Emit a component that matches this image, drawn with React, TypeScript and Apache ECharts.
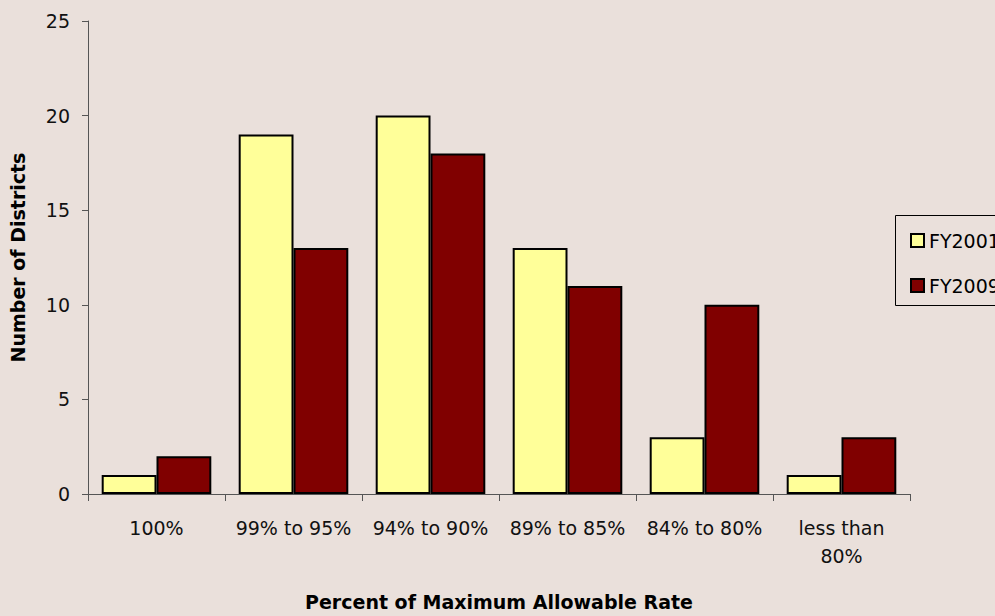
import React, { useEffect, useRef } from "react";
import * as echarts from "echarts";

const categories = ["100%", "99% to 95%", "94% to 90%", "89% to 85%", "84% to 80%", "less than\n80%"];
const fy2001 = [1, 19, 20, 13, 3, 1];
const fy2009 = [2, 13, 18, 11, 10, 3];
const yTicks = { min: 0, max: 25, interval: 5 };

const FONT = "'DejaVu Sans', Verdana, sans-serif";

export default function App() {
  const ref = useRef<HTMLDivElement>(null);
  useEffect(() => {
    if (!ref.current) return;
    const chart = echarts.init(ref.current, undefined, { renderer: "svg" });
    chart.setOption({
      animation: false,
      backgroundColor: "#EAE0DB",
      textStyle: { fontFamily: FONT },
      grid: { left: 81, top: 21, right: 85, bottom: 111, containLabel: false },
      legend: {
        orient: "vertical",
        left: 905,
        top: 226,
        itemWidth: 13,
        itemHeight: 13,
        itemGap: 26,
        icon: "rect",
        textStyle: { fontFamily: FONT, fontSize: 19, color: "#000" },
        data: ["FY2001", "FY2009"],
      },
      graphic: [
        {
          type: "rect",
          shape: { x: 895.5, y: 215.5, width: 200, height: 90 },
          style: { fill: "none", stroke: "#000", lineWidth: 1 },
          z: 10,
        },
      ],
      xAxis: {
        type: "category",
        data: categories,
        name: "Percent of Maximum Allowable Rate",
        nameLocation: "middle",
        nameGap: 98,
        nameTextStyle: { fontFamily: FONT, fontSize: 19, fontWeight: "bold", color: "#000" },
        axisLine: { lineStyle: { color: "#555", width: 1 } },
        axisTick: { show: true, length: 7, lineStyle: { color: "#555" } },
        axisLabel: { interval: 0, fontFamily: FONT, fontSize: 19, color: "#111", margin: 20, lineHeight: 28 },
      },
      yAxis: {
        type: "value",
        min: yTicks.min,
        max: yTicks.max,
        interval: yTicks.interval,
        name: "Number of Districts",
        nameLocation: "middle",
        nameGap: 61,
        nameRotate: 90,
        nameTextStyle: { fontFamily: FONT, fontSize: 19, fontWeight: "bold", color: "#000" },
        axisLine: { show: true, lineStyle: { color: "#555", width: 1 } },
        axisTick: { show: true, length: 6, lineStyle: { color: "#555" } },
        axisLabel: { fontFamily: FONT, fontSize: 19, color: "#111", margin: 18 },
        splitLine: { show: false },
      },
      series: [
        {
          name: "FY2001",
          type: "bar",
          data: fy2001,
          barGap: "0%",
          barCategoryGap: "20%",
          itemStyle: { color: "#FFFF99", borderColor: "#000", borderWidth: 2 },
        },
        {
          name: "FY2009",
          type: "bar",
          data: fy2009,
          barGap: "0%",
          barCategoryGap: "20%",
          itemStyle: { color: "#800000", borderColor: "#000", borderWidth: 2 },
        },
      ],
    });
    return () => chart.dispose();
  }, []);
  return <div ref={ref} style={{ width: 995, height: 616, position: "absolute", left: 0, top: 0 }} />;
}
